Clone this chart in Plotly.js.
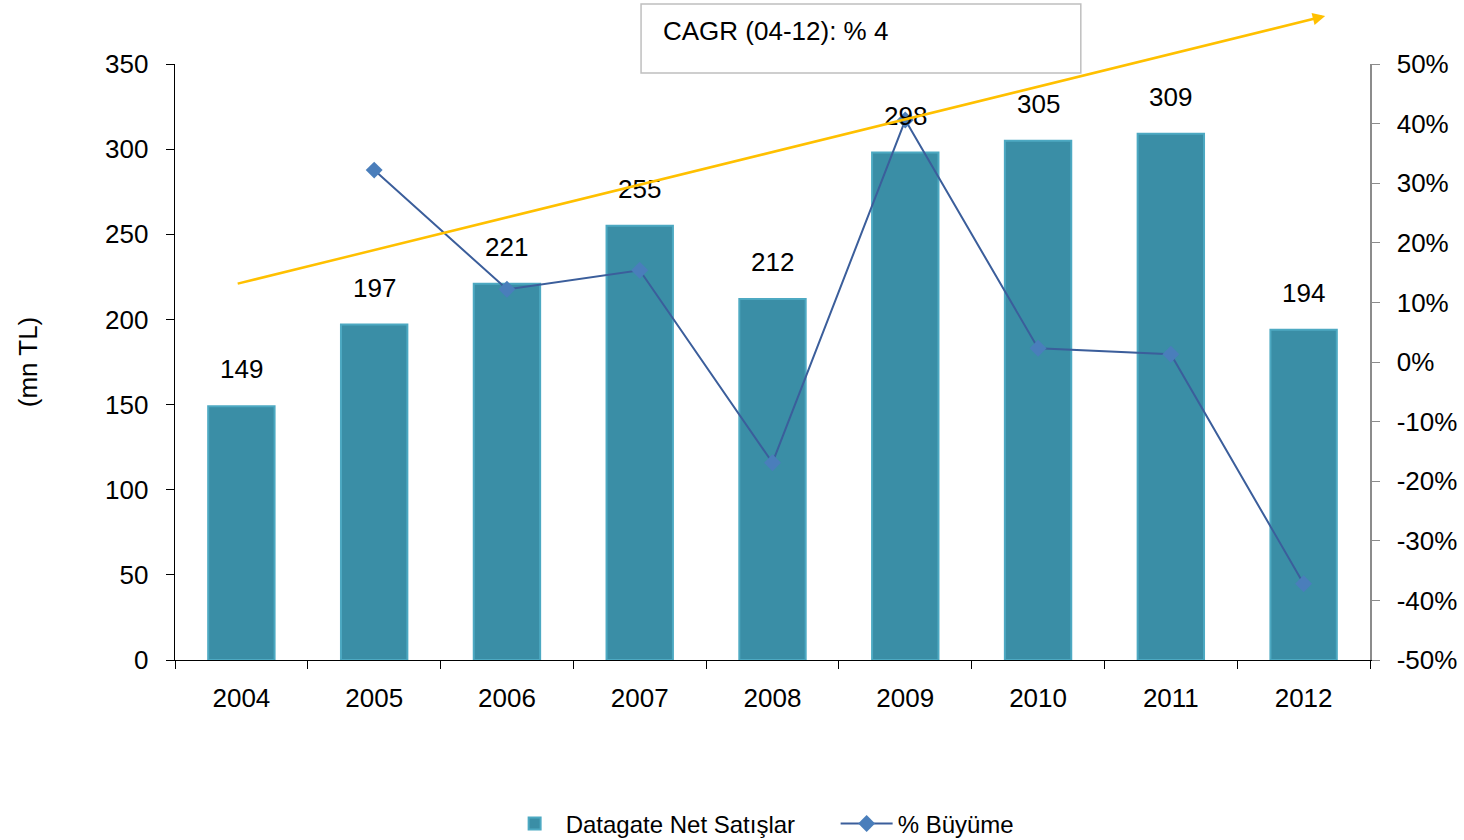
<!DOCTYPE html>
<html>
<head>
<meta charset="utf-8">
<script src="https://cdn.plot.ly/plotly-3.0.1.min.js"></script>
<style>html,body{margin:0;padding:0;background:#fff;}#chart{width:1464px;height:840px;}</style>
</head>
<body>
<div id="chart"></div>
<script>
var years = ['2004','2005','2006','2007','2008','2009','2010','2011','2012'];
var sales = [149, 197, 221, 255, 212, 298, 305, 309, 194];
var growthYears = ['2005','2006','2007','2008','2009','2010','2011','2012'];
var growth = [32.2, 12.2, 15.4, -16.9, 40.6, 2.3, 1.3, -37.2];
var leftTicks = [0, 50, 100, 150, 200, 250, 300, 350];
var rightTicks = [-50, -40, -30, -20, -10, 0, 10, 20, 30, 40, 50];
var cagrText = 'CAGR (04-12): % 4';

var FONT = 'Liberation Sans, Arial, sans-serif';

var traces = [
  {
    type: 'bar', x: years, y: sales, name: 'Datagate Net Satışlar',
    width: 0.5,
    marker: {color: '#3A8EA6', line: {color: '#4DA9C2', width: 2}},
    hoverinfo: 'skip'
  },
  {
    type: 'scatter', mode: 'lines+markers', x: growthYears, y: growth, yaxis: 'y2',
    name: '% Büyüme',
    line: {color: '#3B5E9B', width: 2},
    marker: {symbol: 'diamond', size: 13, color: '#4A7EBB', line: {width: 0}},
    hoverinfo: 'skip'
  }
];

var annotations = years.map(function (yr, i) {
  return {x: i, y: sales[i], xref: 'x', yref: 'y', text: String(sales[i]),
    showarrow: false, yanchor: 'bottom', yshift: 20,
    font: {family: FONT, size: 26, color: '#000'}};
});
annotations.push({
  xref: 'paper', yref: 'paper', x: 0.9625, y: 1.0805, ax: -1089, ay: 268,
  axref: 'pixel', ayref: 'pixel', text: '', showarrow: true,
  arrowcolor: '#FFC000', arrowwidth: 2.5, arrowhead: 2, arrowsize: 1
});
annotations.push({
  xref: 'paper', yref: 'paper', x: 0.4067, y: 1.0554, xanchor: 'left', yanchor: 'middle',
  text: cagrText, showarrow: false, font: {family: FONT, size: 26, color: '#000'}
});

var layout = {
  width: 1464, height: 840,
  margin: {l: 175, r: 94, t: 64, b: 180, autoexpand: false},
  paper_bgcolor: '#fff', plot_bgcolor: '#fff',
  font: {family: FONT, size: 26, color: '#000'},
  showlegend: true,
  legend: {orientation: 'h', x: 0.275, xanchor: 'left', y: -0.275, yanchor: 'middle',
    entrywidth: 265, entrywidthmode: 'pixels',
    font: {family: FONT, size: 24, color: '#000'}, traceorder: 'normal', itemwidth: 52},
  xaxis: {
    type: 'category', categoryorder: 'array', categoryarray: years,
    range: [-0.5, years.length - 0.5], autorange: false,
    showgrid: false, zeroline: false,
    showline: true, linecolor: '#000', linewidth: 1.3,
    ticks: 'outside', tickson: 'boundaries', ticklen: 8, tickcolor: '#000',
    tickangle: 0, ticklabelstandoff: 14,
    tickfont: {family: FONT, size: 26}, fixedrange: true
  },
  yaxis: {
    range: [0, 350], tickvals: leftTicks, ticktext: leftTicks.map(String),
    showgrid: false, zeroline: false, showline: true, linecolor: '#000', linewidth: 1.3,
    ticks: 'outside', ticklen: 8, tickcolor: '#000', ticklabelstandoff: 12,
    tickfont: {family: FONT, size: 26},
    title: {text: '(mn TL)', font: {family: FONT, size: 26}, standoff: 60}
  },
  yaxis2: {
    overlaying: 'y', side: 'right', range: [-50, 50],
    tickvals: rightTicks, ticktext: rightTicks.map(function (v) { return v + '%'; }),
    showgrid: false, zeroline: false, showline: true, linecolor: '#8C8C8C', linewidth: 1.5,
    ticks: 'outside', ticklen: 8, tickcolor: '#8C8C8C', ticklabelstandoff: 12,
    tickfont: {family: FONT, size: 26}
  },
  shapes: [{
    type: 'rect', xref: 'paper', yref: 'paper', x0: 0.39, x1: 0.758, y0: 0.985, y1: 1.1007,
    line: {color: '#BFBFBF', width: 1.5}, fillcolor: 'rgba(0,0,0,0)', layer: 'above'
  }],
  annotations: annotations
};

Plotly.newPlot('chart', traces, layout, {displayModeBar: false, staticPlot: true});
</script>
</body>
</html>
